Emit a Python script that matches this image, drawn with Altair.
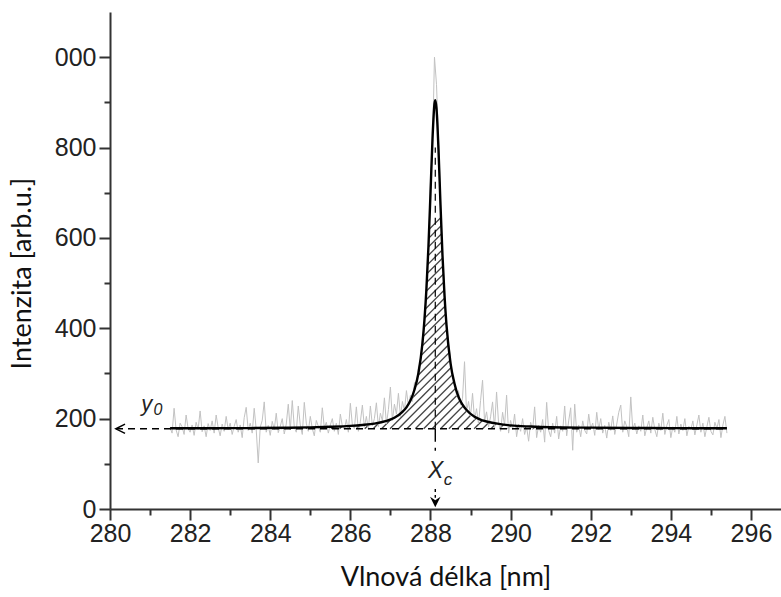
import altair as alt
import numpy as np
import pandas as pd

# ---------------- data ----------------
# measured spectrum (grey trace), one value every 0.05 nm starting at 281.50 nm
seg_281 = [180, 168, 223, 175, 160, 190, 182, 165, 208, 178, 170, 186, 163, 192, 176, 217, 171, 184, 160, 189]
seg_282 = [174, 195, 168, 208, 180, 162, 188, 172, 205, 176, 190, 165, 183, 198, 170, 186, 158, 202, 225, 174]
seg_283 = [190, 168, 223, 176, 102, 181, 196, 237, 170, 185, 163, 194, 176, 212, 169, 183, 200, 166, 188, 232]
seg_284 = [175, 240, 182, 170, 228, 186, 165, 236, 190, 172, 205, 178, 162, 196, 183, 170, 224, 180, 192, 168]
seg_285 = [186, 200, 172, 190, 165, 210, 183, 176, 198, 170, 234, 186, 178, 226, 172, 193, 230, 181, 205, 176]
seg_286 = [228, 184, 200, 235, 182, 212, 195, 246, 188, 220, 270, 196, 232, 210, 256, 205, 238, 218, 262, 228]
seg_287 = [252, 238, 280, 272, 315, 322, 380, 410, 505, 570, 720, 800, 1000, 940, 820, 690, 550, 490, 400, 372]
seg_288 = [330, 290, 285, 250, 262, 230, 245, 326, 215, 238, 205, 256, 198, 222, 188, 240, 285, 194, 215, 182]
seg_289 = [204, 237, 178, 259, 190, 172, 214, 185, 252, 168, 196, 176, 210, 160, 188, 172, 200, 165, 182, 150]
seg_290 = [192, 175, 226, 158, 185, 170, 198, 148, 236, 174, 160, 190, 168, 205, 155, 184, 172, 228, 162, 195]
seg_291 = [224, 130, 232, 170, 186, 160, 195, 174, 166, 210, 178, 190, 163, 214, 176, 200, 168, 185, 157, 192]
seg_292 = [174, 206, 165, 188, 214, 230, 170, 195, 182, 160, 248, 176, 190, 166, 184, 172, 208, 162, 180, 195]
seg_293 = [168, 203, 176, 160, 190, 174, 212, 165, 185, 198, 158, 182, 170, 205, 166, 188, 174, 200, 162, 183]
seg_294 = [176, 195, 164, 186, 208, 170, 190, 160, 182, 203, 172, 164, 192, 178, 198, 158, 186, 205, 168]
intensity = (seg_281 + seg_282 + seg_283 + seg_284 + seg_285 + seg_286 + seg_287
             + seg_288 + seg_289 + seg_290 + seg_291 + seg_292 + seg_293 + seg_294)
wl_start, wl_step = 281.5, 0.05
wavelength = [round(wl_start + wl_step * i, 2) for i in range(len(intensity))]

# Lorentzian fit (black curve)
fit_wl = [281.5, 282.5, 283.5, 284.5, 285.0, 285.5, 286.0, 286.3, 286.6, 286.9, 287.1, 287.3,
          287.4, 287.5, 287.6, 287.7, 287.8, 287.85, 287.9, 287.95, 288.0, 288.05, 288.1, 288.12,
          288.15, 288.2, 288.25, 288.3, 288.35, 288.4, 288.5, 288.6, 288.7, 288.8, 288.9, 289.1,
          289.3, 289.6, 290.0, 290.5, 291.0, 292.0, 293.0, 294.0, 295.4]
fit_int = [178.6, 178.8, 179.1, 179.7, 180.7, 182, 184, 186, 189, 195, 202, 215,
           225, 240, 264, 301, 367, 419, 489, 582, 698, 818, 897, 905,
           887, 796, 673, 561, 473, 407, 323, 277, 248, 231, 219, 204,
           196, 190, 185, 182.5, 181, 180, 179.3, 179, 178.7]

y0_level = 177.5      # baseline y0
xc_pos = 288.12       # peak centre Xc

x_ticks = [280 + 0.5 * i for i in range(34)]
y_ticks = list(range(0, 1100, 50))

X_DOM = [280, 296.75]
Y_DOM = [0, 1100]
W, H = 671, 497

xs = alt.Scale(domain=X_DOM, nice=False, zero=False)
ys = alt.Scale(domain=Y_DOM, nice=False, zero=False)

spec_df = pd.DataFrame({"x": wavelength, "y": intensity})
fit_df = pd.DataFrame({"x": fit_wl, "y": fit_int})
mask_df = pd.concat([pd.DataFrame({"x": [X_DOM[0]], "y": [fit_int[0]]}), fit_df,
                     pd.DataFrame({"x": [X_DOM[1]], "y": [fit_int[-1]]})], ignore_index=True)
mask_df["top"] = Y_DOM[1]

# hatch pattern (style): 45 degree strokes starting on the baseline
hx0 = np.arange(283.0, 290.6, 0.21)
hatch_df = pd.DataFrame({"x": hx0, "y": y0_level, "x2": hx0 + 9.0, "y2": y0_level + 800})

tick_font = "Liberation Sans"
title_font = "Lato"

x_axis = alt.Axis(
    values=x_ticks, title="Vlnová délka [nm]",
    labelExpr="datum.value % 2 === 0 ? datum.label : ''",
    tickSize={"condition": {"test": "datum.value % 2 === 0", "value": 11}, "value": 6},
    labelFont=tick_font, labelFontSize=25, labelColor="#222", labelPadding=1,
    titleFont=title_font, titleFontSize=27, titleFontWeight="normal", titleColor="#111",
    titlePadding=18, domainColor="#333", domainWidth=2, tickColor="#333", tickWidth=2,
    grid=False, zindex=1, labelFlush=False, labelOverlap=False,
)
y_axis = alt.Axis(
    values=y_ticks, title="Intenzita [arb.u.]",
    labelExpr="datum.value % 200 === 0 ? (datum.value === 1000 ? '000' : datum.label) : ''",
    tickSize={"condition": {"test": "datum.value % 200 === 0", "value": 11}, "value": 6},
    labelFont=tick_font, labelFontSize=25, labelColor="#222", labelPadding=3,
    titleFont=title_font, titleFontSize=27, titleFontWeight="normal", titleColor="#111",
    titlePadding=18, titleY=261, domainColor="#333", domainWidth=2, tickColor="#333", tickWidth=2,
    grid=False, zindex=1, labelFlush=False, labelOverlap=False,
)

hatch = alt.Chart(hatch_df).mark_rule(color="#444", strokeWidth=1.3, clip=True).encode(
    x=alt.X("x:Q", scale=xs, axis=x_axis), y=alt.Y("y:Q", scale=ys, axis=y_axis),
    x2="x2:Q", y2="y2:Q")

mask = alt.Chart(mask_df).mark_area(color="white", opacity=1, interpolate="monotone").encode(
    x="x:Q", y="y:Q", y2="top:Q")

spectrum = alt.Chart(spec_df).mark_line(color="#c2c2c2", strokeWidth=1).encode(
    x="x:Q", y="y:Q")

base_df = pd.DataFrame({"x": [280.15], "x2": [fit_wl[-1]], "y": [y0_level]})
baseline = alt.Chart(base_df).mark_rule(color="black", strokeWidth=1.4, strokeDash=[7, 5]).encode(
    x="x:Q", x2="x2:Q", y="y:Q")

vup_df = pd.DataFrame({"x": [xc_pos], "y": [y0_level], "y2": [800]})
vup = alt.Chart(vup_df).mark_rule(color="black", strokeWidth=1.2, strokeDash=[7, 5]).encode(
    x="x:Q", y="y:Q", y2="y2:Q")

fit = alt.Chart(fit_df).mark_line(color="black", strokeWidth=2.4, interpolate="monotone").encode(
    x="x:Q", y="y:Q")

vdown_df = pd.DataFrame({"x": [xc_pos], "y": [y0_level], "y2": [126]})
vdown = alt.Chart(vdown_df).mark_rule(color="black", strokeWidth=1.4, strokeDash=[13, 6, 3, 40]).encode(
    x="x:Q", y="y:Q", y2="y2:Q")
vdown2_df = pd.DataFrame({"x": [xc_pos], "y": [44], "y2": [25]})
vdown2 = alt.Chart(vdown2_df).mark_rule(color="black", strokeWidth=1.4, strokeDash=[3, 3]).encode(
    x="x:Q", y="y:Q", y2="y2:Q")

arrow_down = alt.Chart(pd.DataFrame({"x": [xc_pos], "y": [15.5]})).mark_point(
    shape="M0,1L-1,-1L0,-0.35L1,-1Z", filled=True, color="black", size=110, opacity=1).encode(
    x="x:Q", y="y:Q")
arrow_left = alt.Chart(pd.DataFrame({"x": [280.26], "y": [y0_level]})).mark_point(
    shape="M1,-1L-1,0L1,1", filled=False, color="black", size=85, strokeWidth=1.5, opacity=1).encode(
    x="x:Q", y="y:Q")

def label(txt, x, y, size):
    return alt.Chart(pd.DataFrame({"x": [x], "y": [y], "t": [txt]})).mark_text(
        font="Liberation Sans", fontStyle="italic", fontSize=size, color="#222",
        align="center", baseline="alphabetic").encode(x="x:Q", y="y:Q", text="t:N")

texts = [label("y", 280.92, 217, 22), label("0", 281.2, 207, 16),
         label("X", 288.13, 68, 23), label("c", 288.44, 53, 17)]

chart = alt.layer(hatch, mask, spectrum, baseline, vup, fit, vdown, vdown2,
                  arrow_down, arrow_left, *texts).properties(
    width=W, height=H,
    padding={"left": 110, "top": 12, "right": 0, "bottom": 88},
    autosize=alt.AutoSizeParams(type="none"),
    background="white",
).configure_view(stroke=None)

chart.save("out.html", embed_options={"renderer": "svg", "actions": False})
